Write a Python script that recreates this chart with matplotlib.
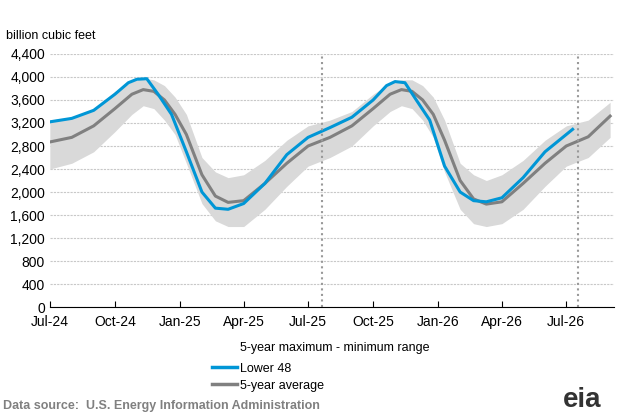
import matplotlib
matplotlib.use("Agg")
import matplotlib.pyplot as plt
import matplotlib.dates as mdates
import numpy as np
import pandas as pd

plt.rcParams['font.family'] = ['Liberation Sans', 'DejaVu Sans']

dates = ["2024-07-01","2024-08-01","2024-09-01","2024-10-01","2024-10-25","2024-11-10","2024-11-25","2024-12-10","2024-12-25",
         "2025-01-10","2025-02-01","2025-02-20","2025-03-10","2025-04-01","2025-05-01","2025-06-01","2025-07-01",
         "2025-08-01","2025-09-01","2025-10-01","2025-10-25","2025-11-10","2025-11-25","2025-12-10","2025-12-25",
         "2026-01-10","2026-02-01","2026-02-20","2026-03-10","2026-04-01","2026-05-01","2026-06-01","2026-07-01",
         "2026-08-01","2026-09-01"]
avg  = [2870,2950,3150,3450,3700,3780,3750,3600,3350,3000,2300,1930,1820,1850,2150,2500,2800,
        2950,3150,3450,3700,3780,3750,3600,3350,2900,2200,1880,1790,1830,2150,2500,2800,2960,3320]
maxv = [3250,3300,3450,3750,3920,3980,3950,3850,3650,3350,2600,2350,2250,2300,2550,2900,3150,
        3250,3400,3700,3900,3950,3950,3850,3650,3250,2500,2300,2200,2300,2550,2900,3150,3250,3560]
minv = [2400,2500,2700,3050,3350,3500,3450,3250,3000,2500,1800,1500,1400,1400,1700,2100,2450,
        2600,2800,3150,3400,3500,3450,3250,2950,2350,1700,1450,1400,1450,1700,2100,2450,2600,2950]
l48_dates = ["2024-07-01","2024-08-01","2024-09-01","2024-10-01","2024-10-20","2024-11-01","2024-11-15","2024-12-01","2024-12-20",
             "2025-01-10","2025-02-01","2025-02-20","2025-03-10","2025-04-01","2025-05-01","2025-06-01","2025-07-01",
             "2025-08-01","2025-09-01","2025-10-01","2025-10-20","2025-11-01","2025-11-15","2025-12-01","2025-12-20",
             "2026-01-10","2026-02-01","2026-02-20","2026-03-10","2026-04-01","2026-05-01","2026-06-01","2026-07-10"]
l48 = [3220,3280,3420,3700,3900,3960,3970,3700,3350,2700,2000,1720,1700,1800,2150,2650,2950,
       3120,3300,3600,3850,3920,3900,3600,3250,2450,2000,1850,1830,1900,2250,2700,3090]

d = pd.to_datetime(dates)
ld = pd.to_datetime(l48_dates)

fig = plt.figure(figsize=(6.23,4.15), dpi=100)
ax = fig.add_axes([0.08, 0.26, 0.905, 0.61])
ax.fill_between(d, minv, maxv, color='#d9d9d9', linewidth=0)
ax.plot(d, avg, color='#808080', lw=2.2)
ax.plot(ld, l48, color='#0096d6', lw=2.2)
for x in ["2025-07-21","2026-07-18"]:
    ax.axvline(pd.Timestamp(x), color='#999999', ls=':', lw=1.5)
ax.set_ylim(0,4400)
ax.set_yticks(range(0,4401,400))
ax.set_yticklabels([f"{v:,}" for v in range(0,4401,400)])
ax.set_xlim(pd.Timestamp("2024-07-01"), pd.Timestamp("2026-09-06"))
ax.xaxis.set_major_locator(mdates.MonthLocator(bymonth=[1,4,7,10]))
ax.xaxis.set_major_formatter(mdates.DateFormatter("%b-%y"))
ax.grid(axis='y', color='#c8c8c8', lw=0.8, ls=(0,(2,1)))
for s in ['top','right','left']:
    ax.spines[s].set_visible(False)
ax.spines['bottom'].set_color('black')
ax.tick_params(axis='y', length=0, labelsize=10)
ax.tick_params(axis='x', direction='in', length=4, labelsize=10, pad=6)
ax.set_axisbelow(True)
fig.text(0.01, 0.905, "billion cubic feet", fontsize=9)
fig.text(0.385, 0.155, "5-year maximum - minimum range", fontsize=9)
fig.lines.append(plt.Line2D([0.34,0.38],[0.115,0.115], color='#0096d6', lw=2.5, transform=fig.transFigure))
fig.text(0.385, 0.103, "Lower 48", fontsize=9)
fig.lines.append(plt.Line2D([0.34,0.38],[0.075,0.075], color='#808080', lw=2.5, transform=fig.transFigure))
fig.text(0.385, 0.063, "5-year average", fontsize=9)
fig.text(0.005, 0.015, "Data source:  U.S. Energy Information Administration", fontsize=9, color='#808080', fontweight='bold')
fig.text(0.935, 0.02, "eia", fontsize=20, color='#333333', fontweight='bold', ha='center')
fig.savefig("out.png", dpi=100)
